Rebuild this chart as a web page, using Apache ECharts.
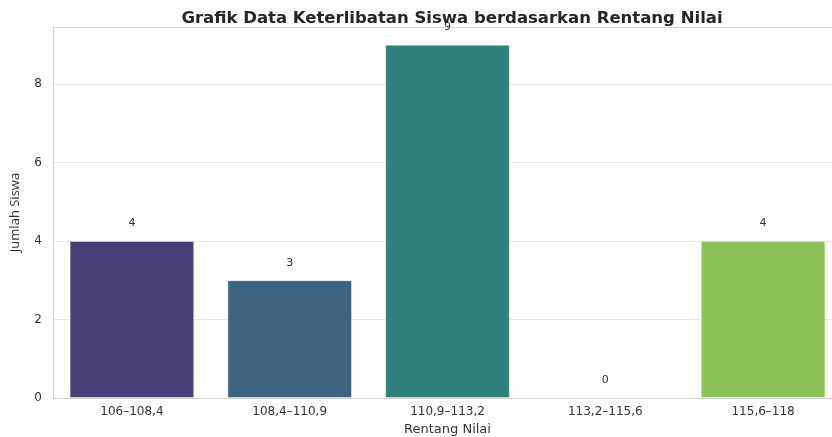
<!DOCTYPE html>
<html>
<head>
<meta charset="utf-8">
<script src="https://cdn.jsdelivr.net/npm/echarts@6/dist/echarts.min.js"></script>
<style>
  html, body { margin: 0; padding: 0; background: #fff; overflow: hidden; }
  #chart { width: 832px; height: 437px; }
</style>
</head>
<body>
<div id="chart"></div>
<script>
// Données
const categories = ["106–108,4", "108,4–110,9", "110,9–113,2", "113,2–115,6", "115,6–118"];
const jumlahSiswa = [4, 3, 9, 0, 4];
const barColors = ["#4a3f77", "#3e6482", "#2e8279", "#2fa37c", "#8cc457"];
const yTicks = [0, 2, 4, 6, 8];

const font = "'DejaVu Sans', sans-serif";
const textColor = "#333";
const spine = "#d4d4d4";

const chart = echarts.init(document.getElementById("chart"));

chart.setOption({
  animation: false,
  title: {
    text: "Grafik Data Keterlibatan Siswa berdasarkan Rentang Nilai",
    left: 447,
    textAlign: "center",
    top: 5,
    textStyle: { fontFamily: font, fontSize: 16.5, fontWeight: "bold", color: "#262626" }
  },
  grid: {
    left: 53, right: -10, top: 27, bottom: 39,
    outerBoundsMode: "none",
    containLabel: false
  },
  xAxis: [{
    type: "category",
    data: categories,
    name: "Rentang Nilai",
    nameLocation: "middle",
    nameGap: 25,
    nameTextStyle: { fontFamily: font, fontSize: 13, color: textColor },
    axisLine: { show: true, lineStyle: { color: spine } },
    axisTick: { show: false },
    axisLabel: { fontFamily: font, fontSize: 12, color: textColor, margin: 8 },
    splitLine: { show: false }
  }, {
    // bordure supérieure
    type: "category",
    position: "top",
    data: categories,
    axisLine: { show: true, lineStyle: { color: spine } },
    axisTick: { show: false },
    axisLabel: { show: false },
    splitLine: { show: false }
  }],
  yAxis: {
    type: "value",
    min: 0,
    max: 9.45,
    interval: 2,
    name: "Jumlah Siswa",
    nameLocation: "middle",
    nameGap: 31,
    nameTextStyle: { fontFamily: "'Open Sans', sans-serif", fontSize: 13, color: textColor },
    axisLine: { show: true, lineStyle: { color: spine } },
    axisTick: { show: false },
    axisLabel: {
      fontFamily: font, fontSize: 12, color: textColor, margin: 11,
      formatter: (v) => (yTicks.includes(v) ? String(v) : "")
    },
    splitLine: { show: true, lineStyle: { color: "#e6e6e6", width: 1 } }
  },
  series: [{
    type: "bar",
    barWidth: "79%",
    data: jumlahSiswa.map((v, i) => ({
      value: v,
      itemStyle: { color: barColors[i], borderWidth: v === 0 ? 0 : 1 }
    })),
    itemStyle: { borderColor: "rgba(255,255,255,0.45)" },
    label: {
      show: true,
      position: "top",
      distance: 12,
      fontFamily: font,
      fontSize: 11,
      color: textColor
    }
  }]
});
</script>
</body>
</html>
